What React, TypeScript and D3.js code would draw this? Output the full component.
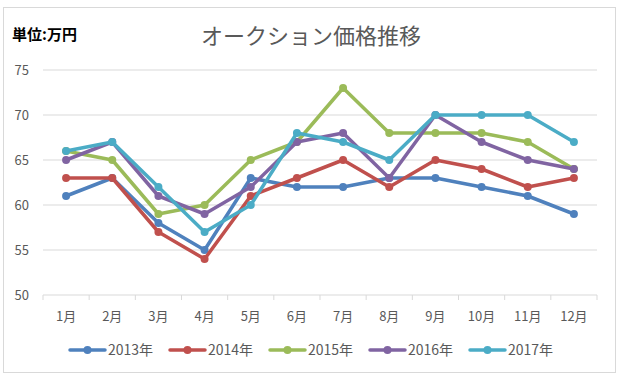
import React from "react";
import * as d3 from "d3";

const months = ["1月", "2月", "3月", "4月", "5月", "6月", "7月", "8月", "9月", "10月", "11月", "12月"];
const seriesNames = ["2013年", "2014年", "2015年", "2016年", "2017年"];
const v2013 = [61, 63, 58, 55, 63, 62, 62, 63, 63, 62, 61, 59];
const v2014 = [63, 63, 57, 54, 61, 63, 65, 62, 65, 64, 62, 63];
const v2015 = [66, 65, 59, 60, 65, 67, 73, 68, 68, 68, 67, 64];
const v2016 = [65, 67, 61, 59, 62, 67, 68, 63, 70, 67, 65, 64];
const v2017 = [66, 67, 62, 57, 60, 68, 67, 65, 70, 70, 70, 67];
const yTicks = [50, 55, 60, 65, 70, 75];
const colors = ["#4F81BD", "#C0504D", "#9BBB59", "#8064A2", "#4BACC6"];

const seriesValues = [v2013, v2014, v2015, v2016, v2017];
const FONT = "'Noto Sans CJK JP', 'Noto Sans', sans-serif";

export default function App() {
  const W = 620, H = 379;
  const left = 43, right = 597, top = 70, bottom = 295;
  const x = d3.scaleBand<string>().domain(months).range([left, right]);
  const y = d3.scaleLinear().domain([50, 75]).range([bottom, top]);
  const cx = (i: number) => (x(months[i]) as number) + x.bandwidth() / 2;
  const line = d3
    .line<number>()
    .x((_, i) => cx(i))
    .y((d) => y(d));
  const boundaries = months.map((m) => x(m) as number).concat([right]);
  const legendX = [70, 170, 270, 370, 470];

  return (
    <svg width={W} height={H} style={{ position: "absolute", left: 0, top: 0 }} fontFamily={FONT}>
      <rect x={0} y={0} width={W} height={H} fill="#fff" />
      <rect x={3.5} y={7.5} width={612} height={365} fill="#fff" stroke="#d9d9d9" />
      <text x={12} y={40} fontSize={15} fontWeight="bold" fill="#000">単位:万円</text>
      <text x={311} y={44} fontSize={22} textAnchor="middle" fill="#595959">オークション価格推移</text>
      {yTicks.map((t) => (
        <g key={t}>
          <line x1={left} x2={right} y1={y(t)} y2={y(t)} stroke="#d9d9d9" strokeWidth={1} />
          <text x={29} y={y(t) + 4.5} fontSize={13} textAnchor="end" fill="#595959">{t}</text>
        </g>
      ))}
      {boundaries.map((b, i) => (
        <line key={i} x1={b} x2={b} y1={bottom} y2={bottom + 5} stroke="#d9d9d9" />
      ))}
      {months.map((m, i) => (
        <text key={m} x={cx(i)} y={321} fontSize={13} textAnchor="middle" fill="#595959">{m}</text>
      ))}
      {seriesValues.map((vals, si) => (
        <g key={si}>
          <path d={line(vals) as string} fill="none" stroke={colors[si]} strokeWidth={3.5} strokeLinejoin="round" strokeLinecap="round" />
          {vals.map((v, i) => (
            <circle key={i} cx={cx(i)} cy={y(v)} r={4} fill={colors[si]} />
          ))}
        </g>
      ))}
      {seriesNames.map((n, si) => (
        <g key={n}>
          <line x1={legendX[si]} x2={legendX[si] + 35} y1={350} y2={350} stroke={colors[si]} strokeWidth={3.5} strokeLinecap="round" />
          <circle cx={legendX[si] + 17.5} cy={350} r={4} fill={colors[si]} />
          <text x={legendX[si] + 38} y={355} fontSize={14} fill="#595959">{n}</text>
        </g>
      ))}
    </svg>
  );
}
